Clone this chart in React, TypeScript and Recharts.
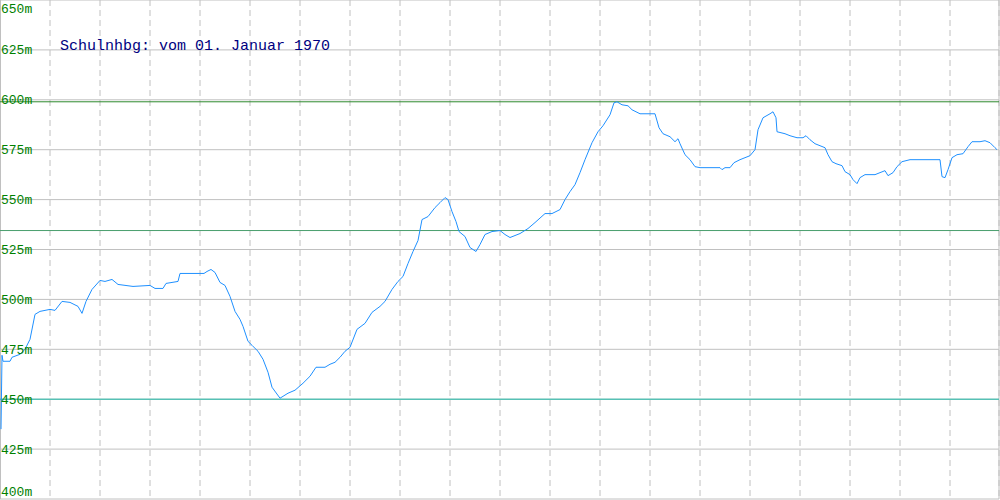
import { LineChart, Line, XAxis, YAxis, CartesianGrid, ReferenceLine } from "recharts"

// horizontal position along the track (chart units) and elevation in metres
const distance = [
  1, 2, 3, 10, 12, 20, 25, 30, 35, 40, 50, 55, 62, 70, 78, 82, 86, 92, 100, 105,
  112, 118, 133, 150, 155, 163, 166, 178, 180, 204, 207, 211, 215, 220, 225, 230, 235, 240, 243, 248,
  252, 258, 263, 268, 272, 280, 288, 295, 303, 310, 316, 325, 330, 335, 340, 345, 350, 357, 365, 372,
  380, 385, 392, 398, 403, 408, 413, 418, 422, 428, 435, 440, 445, 448, 452, 456, 459, 465, 470, 476,
  480, 485, 492, 500, 505, 510, 520, 528, 535, 545, 552, 560, 565, 570, 575, 580, 585, 592, 598, 603,
  610, 614, 617, 622, 628, 632, 640, 655, 659, 663, 670, 675, 678, 680, 685, 690, 695, 700, 720, 722,
  725, 730, 734, 740, 745, 750, 755, 758, 763, 770, 773, 776, 777, 785, 790, 797, 803, 806, 810, 815,
  820, 825, 828, 832, 836, 842, 845, 850, 853, 857, 860, 865, 875, 880, 885, 888, 893, 897, 902, 910,
  940, 942, 945, 948, 952, 957, 963, 968, 972, 980, 985, 990, 995, 997,
]
const elevation = [
  435, 472, 469, 469, 471, 472.5, 475, 480, 492.5, 494, 495, 494.5, 499, 498.5, 496.5, 493, 499, 505, 509.5, 509,
  510, 507.5, 506.5, 507, 505.5, 505.5, 508, 509, 513, 513, 514, 515, 513.5, 508.5, 507, 501.5, 494, 490, 486.5, 479,
  477, 474, 470, 463.5, 456, 450.5, 453, 454.5, 458, 461.5, 466, 466, 467.5, 468.5, 471, 474, 476, 485, 488, 493.5,
  496.5, 499, 505, 509, 511.5, 518, 524, 529.5, 540, 541.5, 546, 548.5, 551, 550, 544, 539, 534, 531.5, 526, 524,
  527.5, 532.5, 534, 534.5, 532.5, 531, 533, 535.5, 538.5, 543, 543, 545, 550, 554, 557.5, 563.5, 570, 578.5, 584, 587,
  592.5, 598.5, 599, 597.5, 597, 595, 593, 593, 586, 583, 581.5, 579, 580.5, 578, 572.5, 570, 566.5, 566, 566, 565,
  566, 566, 568.5, 570, 571, 572, 575, 585, 591, 593, 594, 591, 584, 583, 582, 581, 581, 582, 580, 578,
  577, 576, 572.5, 569, 568, 567, 564, 562.5, 560, 558, 561, 562.5, 562.5, 563.5, 564.5, 562, 563.5, 566.5, 569, 570,
  570, 561.5, 561, 565, 571, 572.5, 573, 576.5, 579, 579, 579.5, 578.5, 576, 575,
]

const yTicks = [400, 425, 450, 475, 500, 525, 550, 575, 600, 625, 650]
const xTicks = [50, 100, 150, 200, 250, 300, 350, 400, 450, 500, 550, 600, 650, 700, 750, 800, 850, 900, 950]
const markers = [
  { value: 599, color: "#2e8b2e" },
  { value: 534.5, color: "#4a9e6e" },
  { value: 450, color: "#1fbaa8" },
]
const title = "Schulnhbg: vom 01. Januar 1970"

const data = distance.map((d, i) => ({ d, h: elevation[i] }))

const ElevTick = (props: any) => {
  const { y, payload } = props
  let ty = y
  if (payload.value === 650) ty = 8
  if (payload.value === 400) ty = 491
  return (
    <text x={1} y={ty} dy="0.35em" fill="#008000" fontSize={13} fontFamily="Liberation Mono, monospace" textAnchor="start">
      {payload.value}m
    </text>
  )
}

export default function App() {
  return (
    <div style={{ position: "absolute", left: 0, top: 0, width: 1000, height: 500, background: "#fff" }}>
      <LineChart width={1000} height={500} data={data} margin={{ top: 0, right: 1, bottom: 1, left: 0 }}>
        <CartesianGrid vertical={false} stroke="#c0c0c0" />
        <CartesianGrid horizontal={false} stroke="#c0c0c0" strokeDasharray="6 4" />
        <XAxis dataKey="d" type="number" domain={[0, 999]} ticks={xTicks} hide />
        <YAxis
          type="number"
          domain={[400, 650]}
          ticks={yTicks}
          mirror
          axisLine={false}
          tickLine={false}
          tick={<ElevTick />}
          interval={0}
        />
        <ReferenceLine x={0.5} stroke="#c0c0c0" />
        <ReferenceLine x={999} stroke="#c0c0c0" />
        {markers.map((m) => (
          <ReferenceLine key={m.value} y={m.value} stroke={m.color} />
        ))}
        <Line dataKey="h" stroke="#1e90ff" strokeWidth={1} dot={false} activeDot={false} isAnimationActive={false} type="linear" />
      </LineChart>
      <div
        style={{
          position: "absolute",
          left: 60,
          top: 38,
          fontFamily: "Liberation Mono, monospace",
          fontSize: 15,
          color: "#000080",
          whiteSpace: "pre",
        }}
      >
        {title}
      </div>
    </div>
  )
}
